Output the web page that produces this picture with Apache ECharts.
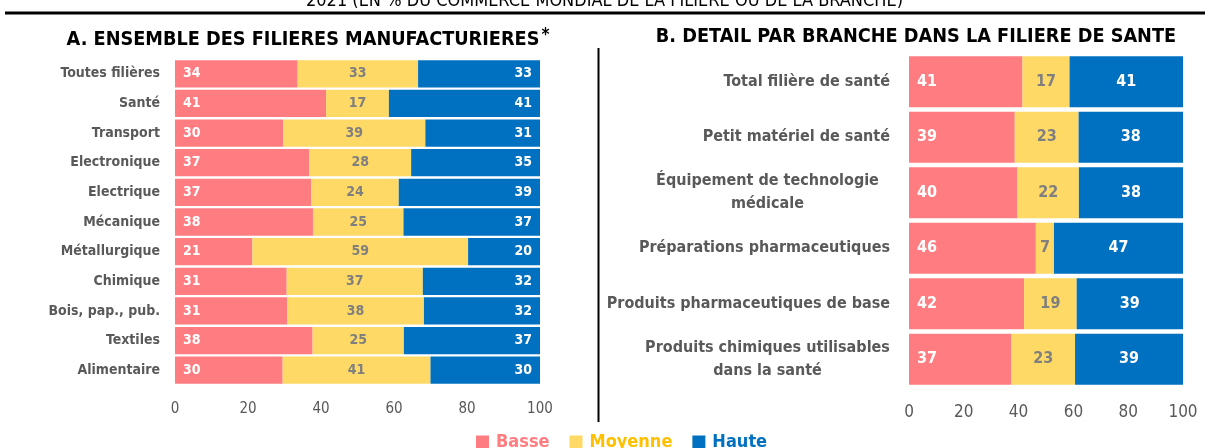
<!DOCTYPE html>
<html>
<head>
<meta charset="utf-8">
<script src="https://cdn.jsdelivr.net/npm/echarts@6/dist/echarts.min.js"></script>
<style>
  html, body { margin: 0; padding: 0; background: #fff; }
  #chart { width: 1209px; height: 448px; }
</style>
</head>
<body>
<div id="chart"></div>
<script>
// données panneau A
var filieres = ['Toutes filières', 'Santé', 'Transport', 'Electronique', 'Electrique', 'Mécanique',
    'Métallurgique', 'Chimique', 'Bois, pap., pub.', 'Textiles', 'Alimentaire'];
var basseA = [33.6, 41.4, 29.6, 36.8, 37.3, 37.8, 21.2, 30.6, 30.7, 37.7, 29.5];
var moyenneA = [33.0, 17.2, 39.0, 27.9, 24.0, 24.8, 59.1, 37.3, 37.5, 25.0, 40.5];
var hauteA = [33.4, 41.4, 31.4, 35.3, 38.7, 37.4, 19.7, 32.1, 31.8, 37.3, 30.0];

// données panneau B
var branches = ['Total filière de santé', 'Petit matériel de santé', 'Équipement de technologie\nmédicale',
    'Préparations pharmaceutiques', 'Produits pharmaceutiques de base', 'Produits chimiques utilisables\ndans la santé'];
var basseB = [41.4, 38.6, 39.6, 46.3, 42.0, 37.4];
var moyenneB = [17.2, 23.3, 22.4, 6.6, 19.2, 23.2];
var hauteB = [41.4, 38.1, 38.0, 47.1, 38.8, 39.4];

var xTicks = [0, 20, 40, 60, 80, 100];
var legendNames = ['Basse', 'Moyenne', 'Haute'];

var FONT = '"DejaVu Sans Condensed", "Liberation Sans", sans-serif';
var cRose = '#FF7C80', cJaune = '#FFD966', cBleu = '#0070C0';
var gris = '#595959';

var dom = document.getElementById('chart');
var myChart = echarts.init(dom, null, { renderer: 'canvas' });

// largeur de texte pour centrer les libellés sur deux lignes
var ctx = document.createElement('canvas').getContext('2d');
ctx.font = 'bold 16px ' + FONT;
function largeur(t) { return Math.ceil(ctx.measureText(t).width); }

function fmt(p) { return Math.round(p.value); }

function serie(name, data, color, idx, labelPos, labelColor, size) {
    return {
        name: name,
        type: 'bar',
        stack: 'p' + idx,
        xAxisIndex: idx,
        yAxisIndex: idx,
        barCategoryGap: '8%',
        data: data,
        itemStyle: { color: color },
        label: {
            show: true,
            position: labelPos,
            distance: 8,
            color: labelColor,
            fontFamily: FONT,
            fontWeight: 'bold',
            fontSize: size,
            formatter: fmt
        }
    };
}

var xAxisBase = function(idx, size, margin) {
    return {
        type: 'value',
        gridIndex: idx,
        min: 0,
        max: 100,
        interval: 20,
        splitLine: { show: false },
        axisLine: { show: false },
        axisTick: { show: false },
        axisLabel: {
            color: gris,
            fontFamily: FONT,
            fontSize: size,
            margin: margin,
            formatter: function(v) { return xTicks.indexOf(v) >= 0 ? String(v) : ''; }
        }
    };
};

var option = {
    backgroundColor: '#fff',
    animation: false,
    title: [{
        text: '2021 (EN % DU COMMERCE MONDIAL DE LA FILIERE OU DE LA BRANCHE)',
        left: 'center',
        top: -13,
        textStyle: { fontFamily: FONT, fontSize: 18, fontWeight: 'normal', color: '#000' }
    }, {
        text: 'A. ENSEMBLE DES FILIERES MANUFACTURIERES{s|*}',
        left: 303,
        textAlign: 'center',
        top: 22,
        textStyle: {
            fontFamily: FONT, fontSize: 19.7, fontWeight: 'bold', color: '#000',
            rich: { s: { fontFamily: FONT, fontSize: 17, fontWeight: 'bold', color: '#000', verticalAlign: 'top', padding: [0, 0, 8, 2] } }
        }
    }, {
        text: 'B. DETAIL PAR BRANCHE DANS LA FILIERE DE SANTE',
        left: 911,
        textAlign: 'center',
        top: 22,
        textStyle: { fontFamily: FONT, fontSize: 19.7, fontWeight: 'bold', color: '#000' }
    }],
    legend: {
        data: legendNames.map(function(n, i) {
            return { name: n, textStyle: { color: [cRose, '#FFC000', cBleu][i] } };
        }),
        bottom: -8,
        left: 471,
        icon: 'rect',
        itemWidth: 13,
        itemHeight: 13,
        itemGap: 20,
        selectedMode: false,
        textStyle: { fontFamily: FONT, fontSize: 18, fontWeight: 'bold', padding: [0, 0, 0, 2] }
    },
    grid: [
        { left: 175, right: 669, top: 59, height: 326, containLabel: false },
        { left: 909, right: 26, top: 54, height: 333, containLabel: false }
    ],
    xAxis: [xAxisBase(0, 15, 17), xAxisBase(1, 17, 17)],
    yAxis: [{
        type: 'category',
        gridIndex: 0,
        inverse: true,
        data: filieres,
        axisLine: { show: false },
        axisTick: { show: false },
        axisLabel: { color: gris, fontFamily: FONT, fontWeight: 'bold', fontSize: 14, margin: 15 }
    }, {
        type: 'category',
        gridIndex: 1,
        inverse: true,
        data: branches,
        axisLine: { show: false },
        axisTick: { show: false },
        axisLabel: {
            color: gris, fontFamily: FONT, fontWeight: 'bold', fontSize: 16, margin: 19, lineHeight: 23,
            formatter: function(v) {
                var lignes = v.split('\n');
                if (lignes.length === 1) return v;
                return lignes.map(function(l) { return '{c|' + l + '}'; }).join('\n');
            },
            rich: {
                c: { color: gris, fontFamily: FONT, fontWeight: 'bold', fontSize: 16, lineHeight: 23, align: 'center',
                     width: Math.max(largeur('Équipement de technologie'), largeur('Produits chimiques utilisables')) }
            }
        }
    }],
    series: [
        serie('Basse', basseA, cRose, 0, 'insideLeft', '#fff', 14),
        serie('Moyenne', moyenneA, cJaune, 0, 'inside', '#7F7F7F', 14),
        serie('Haute', hauteA, cBleu, 0, 'insideRight', '#fff', 14),
        serie('Basse', basseB, cRose, 1, 'insideLeft', '#fff', 16),
        serie('Moyenne', moyenneB, cJaune, 1, 'inside', '#7F7F7F', 16),
        serie('Haute', hauteB, cBleu, 1, 'inside', '#fff', 16)
    ],
    graphic: [{
        type: 'line',
        shape: { x1: 5, y1: 13, x2: 1205, y2: 13 },
        style: { stroke: '#000', lineWidth: 3 }
    }, {
        type: 'line',
        shape: { x1: 598.5, y1: 48, x2: 598.5, y2: 422 },
        style: { stroke: '#000', lineWidth: 2 }
    }]
};

if (option && typeof option === "object") {
    myChart.setOption(option, true);
}

window.addEventListener("resize", function() {
    myChart.resize();
});
</script>
</body>
</html>
